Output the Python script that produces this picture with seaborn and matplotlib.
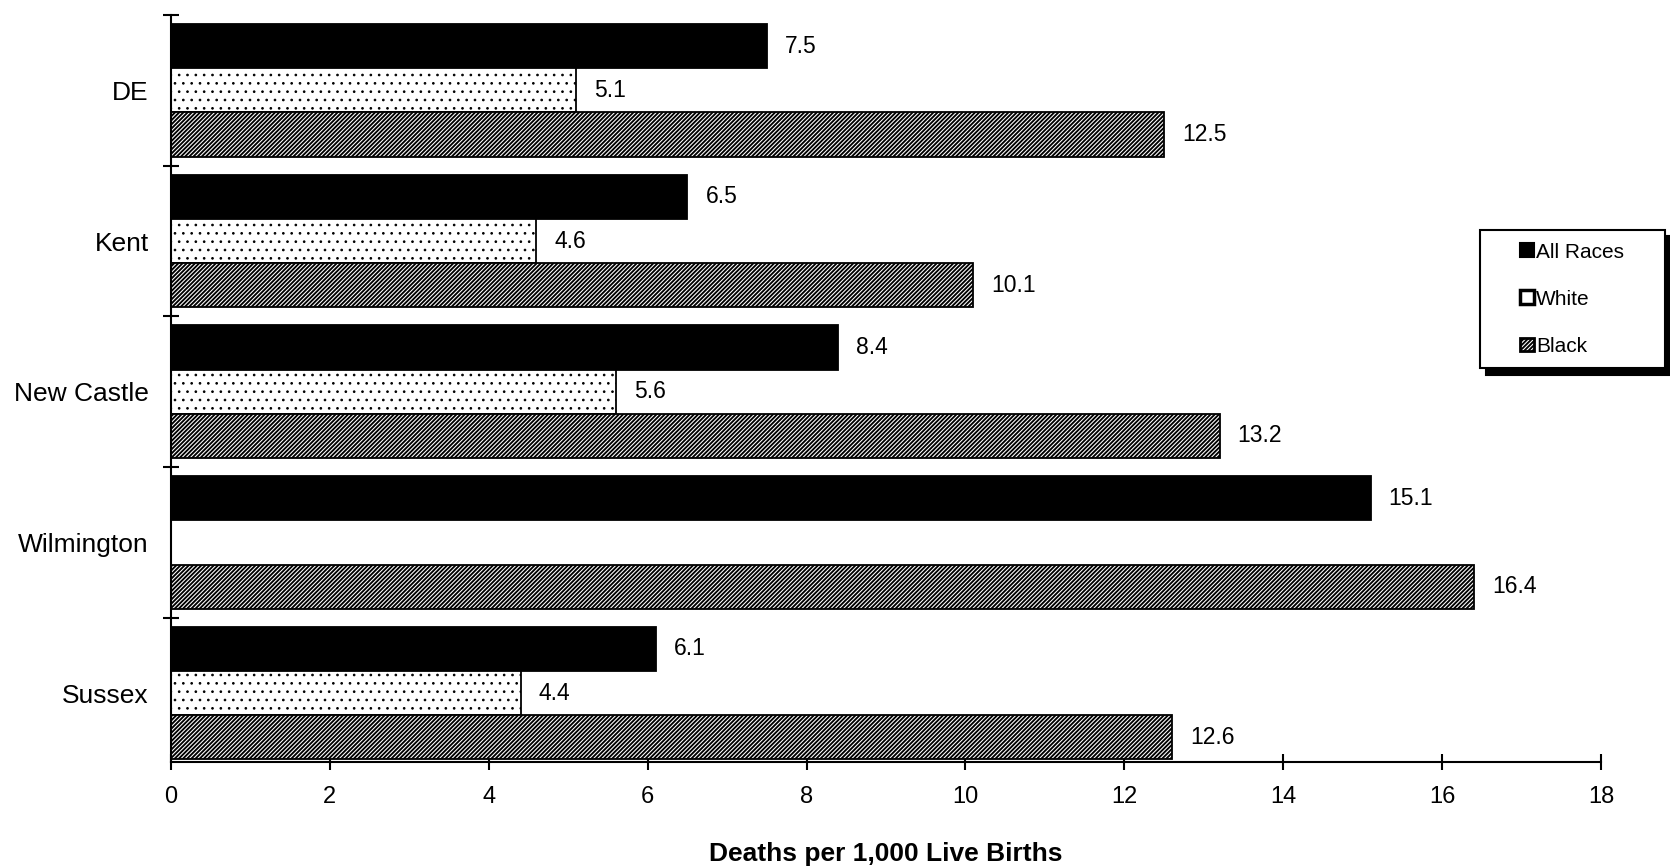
import numpy as np
import pandas as pd
import matplotlib
matplotlib.use("Agg")
import matplotlib.pyplot as plt
import seaborn as sns
from matplotlib.patches import Patch, Rectangle
from matplotlib.legend_handler import HandlerPatch

# ---- data ----
categories = ["DE", "Kent", "New Castle", "Wilmington", "Sussex"]
races = ["All Races", "White", "Black"]
all_races = [7.5, 6.5, 8.4, 15.1, 6.1]
white = [5.1, 4.6, 5.6, np.nan, 4.4]
black = [12.5, 10.1, 13.2, 16.4, 12.6]
x_ticks = [0, 2, 4, 6, 8, 10, 12, 14, 16, 18]
x_label = "Deaths per 1,000 Live Births"

sns.set_style("white", {"axes.edgecolor": "black", "text.color": "black",
                        "xtick.color": "black", "ytick.color": "black",
                        "axes.labelcolor": "black"})
plt.rcParams["font.family"] = ["Liberation Sans", "DejaVu Sans"]
plt.rcParams["hatch.linewidth"] = 1.35

df = pd.DataFrame({
    "area": categories * 3,
    "race": np.repeat(races, len(categories)),
    "rate": all_races + white + black,
}).dropna()

fig = plt.figure(figsize=(16.7, 8.66), dpi=100)
ax = fig.add_axes([171 / 1670, 1 - 762 / 866, (1601 - 171) / 1670, (762 - 15) / 866])

sns.barplot(data=df, x="rate", y="area", hue="race", order=categories,
            hue_order=races, orient="h",
            palette={"All Races": "black", "White": "white", "Black": "white"},
            saturation=1, edgecolor="black", linewidth=1.3, width=0.88,
            gap=0, legend=False, errorbar=None, ax=ax)

hatches = [None, "..", "////////"]
hatch_lw = [None, 0.7, 1.35]
for cont, h, hl in zip(ax.containers, hatches, hatch_lw):
    if h:
        for p in cont:
            p.set_hatch(h)
            if hasattr(p, "set_hatch_linewidth"):
                p.set_hatch_linewidth(hl)
    ax.bar_label(cont, fmt="%.1f", padding=13, fontsize=16.5)

ax.set_xlim(0, 18)
ax.set_ylim(4.457, -0.5)
ax.set_xticks(x_ticks)
ax.set_xticklabels([str(t) for t in x_ticks])
ax.set_yticks([-0.5, 0.5, 1.5, 2.5, 3.5])
ax.set_yticklabels([])
ax.set_yticks(range(len(categories)), minor=True)
ax.set_yticklabels(categories, minor=True, fontsize=19)
ax.tick_params(axis="y", which="minor", length=0, pad=16, left=True)
ax.tick_params(axis="y", which="major", direction="inout", length=11,
               width=1.5, left=True)
ax.tick_params(axis="x", direction="inout", length=12, width=1.5,
               labelsize=17, pad=11, bottom=True)
for s in ["top", "right"]:
    ax.spines[s].set_visible(False)
for s in ["left", "bottom"]:
    ax.spines[s].set_linewidth(1.5)
    ax.spines[s].set_color("black")
ax.set_ylabel("")
ax.set_xlabel(x_label, fontsize=19, fontweight="bold", labelpad=25)


def make_square(legend, orig_handle, xdescent, ydescent, width, height, fontsize):
    s = 10
    return Rectangle((-xdescent + width - s, -ydescent + (height - s) / 2), s, s)


handles = [
    Patch(facecolor="black", edgecolor="black", linewidth=1.5),
    Patch(facecolor="white", edgecolor="black", linewidth=2.5),
    Patch(facecolor="white", edgecolor="black", linewidth=2.0, hatch="////////"),
]
leg = fig.legend(handles, races, loc="upper left",
                 bbox_to_anchor=(1480 / 1670, 1 - 368 / 866, 185 / 1670, 138 / 866),
                 bbox_transform=fig.transFigure, mode="expand",
                 borderaxespad=0, borderpad=0.6, labelspacing=1.35,
                 handlelength=2.0, handleheight=0.7, handletextpad=0.1,
                 fontsize=15, frameon=True, fancybox=False, framealpha=1,
                 edgecolor="black",
                 shadow={"color": "black", "alpha": 1, "ox": 4.5, "oy": -4.5},
                 handler_map={Patch: HandlerPatch(patch_func=make_square)})
leg.get_frame().set_linewidth(1.5)

fig.savefig("out.png", dpi=100)
